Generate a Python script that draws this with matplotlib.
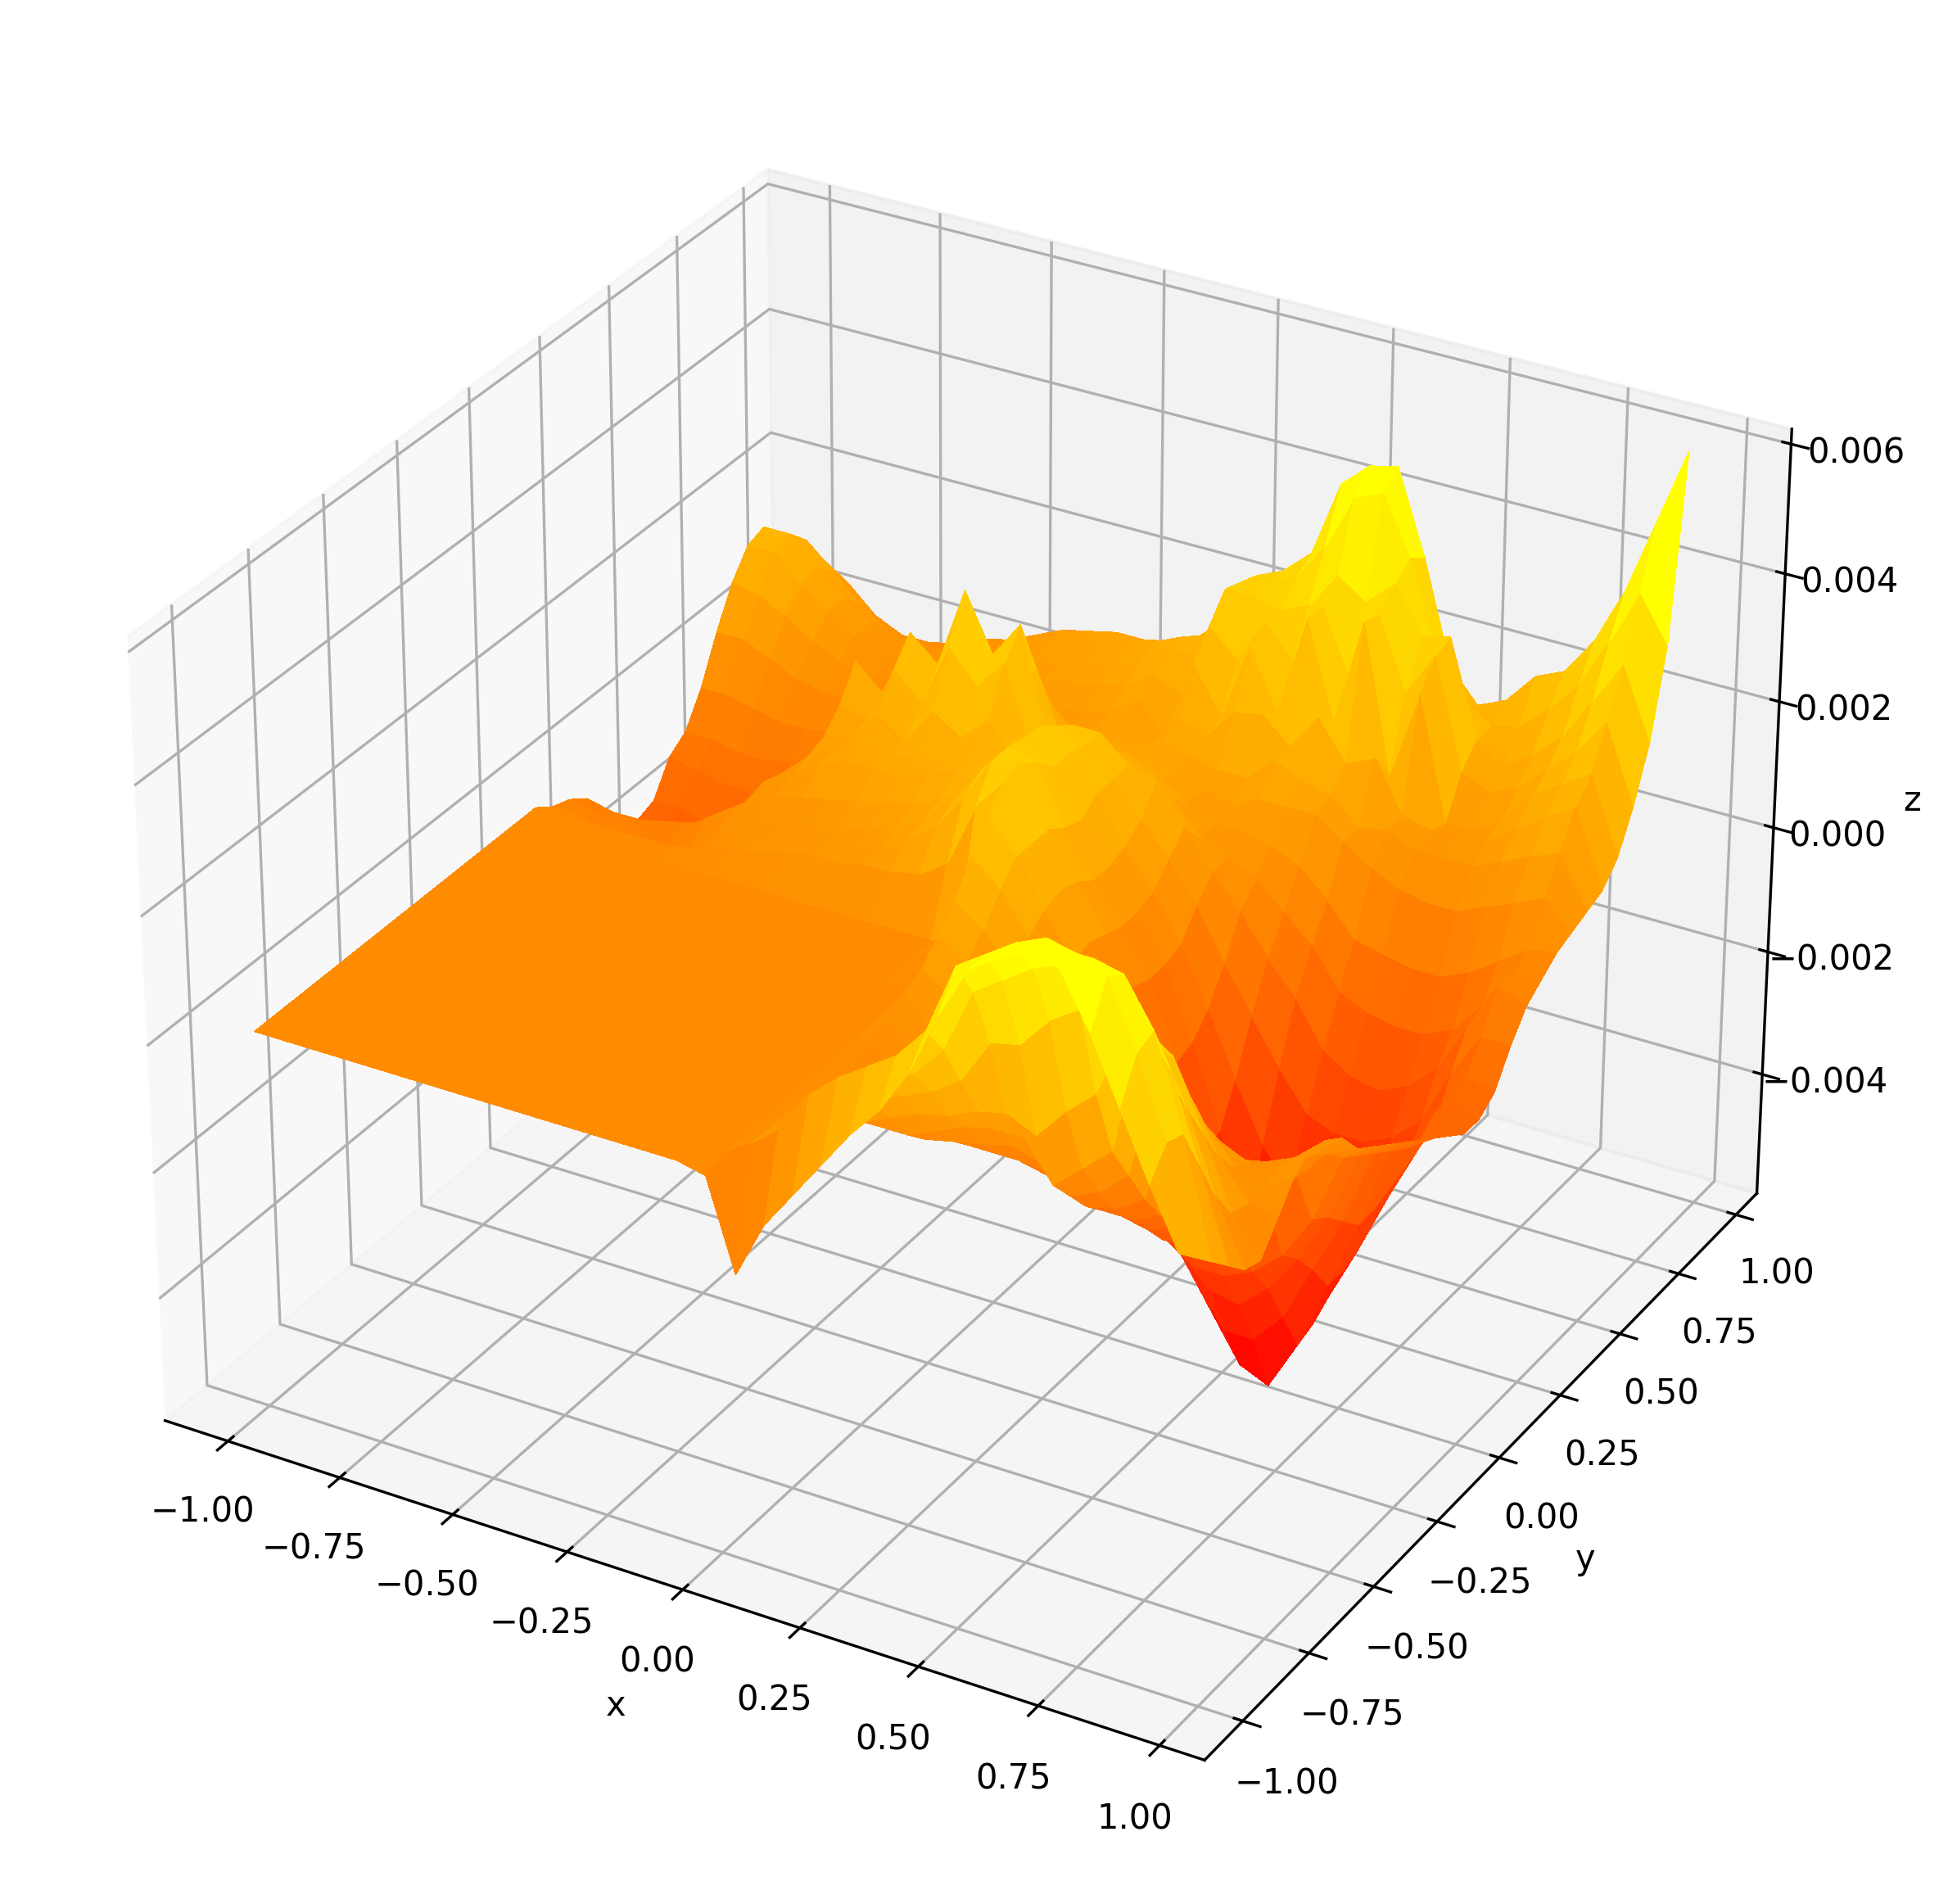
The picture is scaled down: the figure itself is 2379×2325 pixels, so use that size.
import numpy as np
import matplotlib
matplotlib.use("Agg")
import matplotlib.pyplot as plt

# heights in units of 1e-4
front_right = [
[-1,-15,-6,0,6,12,17,24,34,42,45,47,46,38,28,18,9],
[0,3,8,13,17,20,23,28,39,42,45,47,46,44,34,22,6],
[0,2,6,10,13,16,18,23,33,36,39,41,43,42,35,21,3],
[0,1,3,6,9,11,13,16,23,24,29,32,35,33,27,14,0],
[0,1,0,2,4,6,7,9,10,8,13,17,28,26,19,7,-3],
[0,1,-1,-1,-1,1,3,4,4,-2,2,6,26,23,13,2,-4],
[0,1,-2,-3,-4,-3,-2,-1,-2,-6,-4,0,17,15,7,1,0],
[0,1,-3,-5,-6,-6,-6,-6,-7,-10,-9,-6,10,8,3,1,4],
[0,2,-2,-5,-7,-8,-9,-10,-11,-13,-13,-11,6,3,1,2,6],
[0,3,-1,-4,-7,-9,-11,-13,-14,-16,-17,-15,-2,-2,-1,1,5],
[0,5,1,-3,-6,-9,-12,-15,-17,-19,-21,-19,-8,-7,-4,-1,3],
[0,7,4,0,-4,-8,-12,-16,-19,-22,-24,-23,-16,-13,-8,-3,-1],
[0,10,7,3,-2,-7,-12,-17,-22,-27,-30,-30,-28,-24,-17,-6,-3],
[1,13,10,5,-1,-7,-13,-20,-27,-32,-36,-37,-33,-27,-19,-8,-5],
[2,18,14,8,1,-6,-14,-22,-32,-39,-45,-45,-40,-31,-22,-10,-7],
[4,22,17,10,3,-5,-14,-24,-38,-46,-53,-55,-47,-36,-25,-12,-9],
]
back_right = [
[20,25,17,11,4,-3,-13,-24,-40,-48,-53,-53,-46,-36,-25,-14,-11],
[25,26,17,10,3,-4,-15,-28,-44,-50,-52,-50,-44,-35,-24,-15,-13],
[25,24,15,8,2,-5,-17,-30,-46,-50,-50,-47,-41,-33,-23,-13,-15],
[24,21,14,8,2,-5,-16,-29,-43,-48,-46,-43,-38,-31,-22,-13,-15],
[24,21,16,9,3,-4,-13,-23,-32,-38,-37,-36,-33,-28,-21,-12,-13],
[22,20,16,11,6,0,-8,-15,-22,-28,-30,-30,-28,-24,-15,-8,-8],
[20,20,16,15,9,3,-2,-8,-13,-20,-23,-24,-22,-18,-10,-2,-4],
[15,15,12,10,5,3,1,-3,-7,-13,-15,-16,-16,-14,-9,-3,-2],
[12,12,10,7,5,5,4,2,-2,-7,-8,-9,-9,-7,-4,-1,0],
[10,9,8,7,6,8,8,8,5,2,0,-1,-1,1,3,5,1],
[8,10,9,8,8,12,10,9,5,6,4,4,4,6,8,10,2],
[6,12,10,15,16,12,18,12,14,6,5,5,6,9,12,15,3],
[5,18,11,23,14,30,15,32,9,23,4,4,7,12,15,18,6],
[10,22,18,25,20,30,20,31,20,27,10,8,10,14,18,24,12],
[14,26,26,25,27,33,30,34,27,28,13,10,13,17,24,31,20],
[15,25,26,28,34,43,45,36,22,16,13,14,18,23,31,40,33],
[16,24,26,30,42,46,47,34,18,13,15,20,22,28,37,49,61],
]
back_left = [
[0,0,0,0,0,0,1,2,3,4,5,5,6,6,7,10],
[-2,-2,-5,-3,-6,-3,1,2,3,3,4,5,6,9,12,18],
[-3,-4,-3,-5,-3,0,2,3,3,4,5,6,7,10,14,20],
[-5,-6,-6,-5,-4,-1,2,4,5,6,7,8,9,11,14,20],
[-9,-9,-10,-9,-7,-3,3,5,8,10,10,10,12,13,15,20],
[-12,-13,-14,-13,-11,-6,2,6,8,10,10,11,11,13,15,18],
[-15,-16,-17,-16,-14,-8,0,7,8,13,10,16,13,17,12,15],
[-14,-14,-15,-14,-12,-7,0,10,9,18,14,24,19,24,11,12],
[-9,-10,-11,-11,-10,-6,0,15,11,22,18,31,22,28,10,10],
[-7,-7,-8,-8,-7,-5,-2,8,6,15,10,20,13,19,8,9],
[-2,-2,-3,-4,-4,-3,-2,2,4,8,6,10,8,11,7,8],
[5,5,3,1,0,0,0,1,3,4,4,5,5,5,6,9],
[11,10,8,5,3,2,2,2,3,4,5,5,5,6,7,10],
[15,15,11,8,5,3,3,3,3,4,5,6,7,8,9,12],
[16,16,12,8,5,3,3,3,4,5,6,7,8,9,11,14],
[13,13,9,5,2,1,1,2,3,5,7,8,9,10,12,14],
[8,8,5,1,-1,-1,0,2,3,5,7,8,9,9,10,12],
]
front_left = np.zeros((16, 16))

Z = np.vstack([np.hstack([front_left, np.array(front_right)]),
               np.hstack([np.array(back_left), np.array(back_right)])]) * 1e-4
x = np.linspace(-1, 0.95, 33)
y = np.linspace(-1, 0.95, 33)
X, Y = np.meshgrid(x, y)

fig = plt.figure(figsize=(2379/300, 2325/300), dpi=300)
ax = fig.add_axes([0.013, 0.014, 0.95, 0.9725], projection="3d")
ax.plot_surface(X, Y, Z, cmap="autumn", vmin=-52.5e-4, vmax=43e-4,
                rstride=1, cstride=1, linewidth=0, antialiased=False)
ax.set_xlim(-1.142, 1.092)
ax.set_ylim(-1.142, 1.092)
ax.set_zlim(-59.7e-4, 62.3e-4)
ax.set_xticks(np.arange(-1, 1.01, 0.25))
ax.set_yticks(np.arange(-1, 1.01, 0.25))
ax.set_xlabel("x")
ax.set_ylabel("y")
ax.set_zlabel("z")
fig.savefig("out.png", dpi=300)
